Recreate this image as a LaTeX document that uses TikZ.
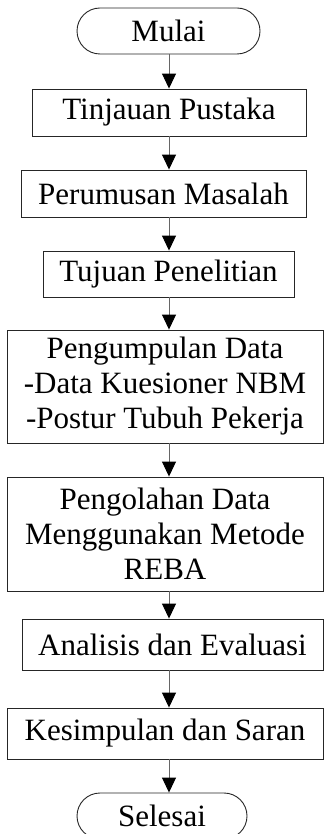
\documentclass[tikz,border=0pt]{standalone}
\usepackage{fontspec}
\setmainfont{Liberation Serif}
\usetikzlibrary{arrows.meta}

\begin{document}
\begin{tikzpicture}[x=1pt,y=-1pt,
    box/.style={draw=black!85, line width=0.9pt, inner sep=0pt, align=center,
      font=\fontsize{31}{35}\selectfont},
    terminal/.style={box, rounded corners=23pt},
    arrow/.style={draw=black!60, line width=1pt,
      -{Triangle[width=14pt,length=15pt,fill=black,color=black]}}]
    \useasboundingbox (0,0) rectangle (324,834);

    % Axis of the connectors
    \coordinate (axis) at (169,0);

    % Steps
    \node[terminal, minimum width=183pt, minimum height=46pt] (mulai) at (168.5,31) {Mulai};
    \node[box, minimum width=274pt, minimum height=47pt] (tinjauan) at (169,112.5) {Tinjauan Pustaka};
    \node[box, minimum width=285pt, minimum height=47pt] (perumusan) at (163.5,193.5) {Perumusan Masalah};
    \node[box, minimum width=251pt, minimum height=46pt] (tujuan) at (168.5,274) {Tujuan Penelitian};
    \node[box, minimum width=316pt, minimum height=113pt] (pengumpulan) at (165,386.5) {Pengumpulan Data\\-Data Kuesioner NBM\\-Postur Tubuh Pekerja};
    \node[box, minimum width=316pt, minimum height=114pt] (pengolahan) at (165,534) {Pengolahan Data\\Menggunakan Metode\\REBA};
    \node[box, minimum width=301pt, minimum height=51pt] (analisis) at (172.5,644.5) {Analisis dan Evaluasi};
    \node[box, minimum width=316pt, minimum height=51pt] (kesimpulan) at (165,733.5) {Kesimpulan dan Saran};
    \node[terminal, minimum width=170pt, minimum height=46pt] (selesai) at (162,816) {Selesai};

    % Connectors
    \foreach \a/\b in {mulai/tinjauan, tinjauan/perumusan, perumusan/tujuan, tujuan/pengumpulan,
      pengumpulan/pengolahan, pengolahan/analisis, analisis/kesimpulan, kesimpulan/selesai} {
      \draw[arrow] (\a.south -| axis) -- (\b.north -| axis);
    }
\end{tikzpicture}
\end{document}
